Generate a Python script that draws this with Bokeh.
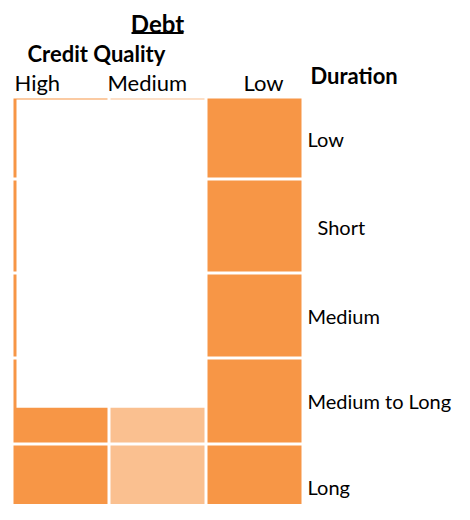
from bokeh.plotting import figure
from bokeh.models import ColumnDataSource, Range1d
from bokeh.core.properties import value
from bokeh.embed import file_html
from bokeh.resources import INLINE

# ---- data ----
title = "Debt"
x_title = "Credit Quality"
y_title = "Duration"
credit_quality = ["High", "Medium", "Low"]
duration = ["Low", "Short", "Medium", "Medium to Long", "Long"]
# shade level of each credit-quality column (1 = strong, 0.5 = partial)
column_shade = [1.0, 0.5, 1.0]
# white mask over High/Medium: covers rows Low..Medium to Long, leaving
# the lower share of "Medium to Long" visible
mask_rows = ["Low", "Short", "Medium", "Medium to Long"]
mask_last_row_visible = 0.42

# ---- layout (pixel units) ----
W, H = 454, 504
grid_left = 13
col_pitch, col_w = 97, 94
row_tops = [98, 180, 274, 359, 445]
row_hs = [79, 91, 82, 83, 80]
DARK, LIGHT = "#F79646", "#FAC090"
FONT = "Lato"
FS = "22px"
FS_ROW = "20px"

p = figure(width=W, height=H, output_backend="svg", toolbar_location=None,
           x_range=Range1d(0, W), y_range=Range1d(H, 0), min_border=0,
           background_fill_color="white", border_fill_color="white")
p.outline_line_color = None
p.axis.visible = False
p.grid.visible = False

left, right, top, bottom, color = [], [], [], [], []
for i, cq in enumerate(credit_quality):
    for j, d in enumerate(duration):
        x0 = grid_left + i * col_pitch
        left.append(x0)
        right.append(x0 + col_w)
        top.append(row_tops[j])
        bottom.append(row_tops[j] + row_hs[j])
        color.append(DARK if column_shade[i] == 1.0 else LIGHT)
p.quad(left="left", right="right", top="top", bottom="bottom", color="color",
       source=ColumnDataSource(dict(left=left, right=right, top=top, bottom=bottom, color=color)),
       line_color=None)

# mask
last = duration.index(mask_rows[-1])
m_left = grid_left + 3
m_right = grid_left + col_pitch + col_w + 1
m_top = row_tops[duration.index(mask_rows[0])] + 1
m_bottom = row_tops[last] + row_hs[last] * (1 - mask_last_row_visible)
p.quad(left=[m_left], right=[m_right], top=[m_top], bottom=[m_bottom],
       fill_color="white", line_color=None)

# title
p.text(x=[157], y=[22.5], text=[title], text_font=value(FONT), text_font_style="bold",
       text_font_size="24px", text_align="center", text_baseline="middle", text_color="black")
p.segment(x0=[131], y0=[32.5], x1=[183], y1=[32.5], line_color="black", line_width=2)

p.text(x=[27], y=[53], text=[x_title], text_font=value(FONT), text_font_style="bold",
       text_font_size=FS, text_baseline="middle", text_color="black")
p.text(x=[310], y=[74.5], text=[y_title], text_font=value(FONT), text_font_style="bold",
       text_font_size=FS, text_baseline="middle", text_color="black")

col_label_x = [14, 107, 243]
p.text(x=col_label_x, y=[81.5] * 3, text=credit_quality, text_font=value(FONT),
       text_font_size=FS, text_baseline="middle", text_color="black")

row_label_x = [307, 317, 307, 307, 307]
row_label_y = [138.5, 226.5, 315.5, 400.5, 486.5]
p.text(x=row_label_x, y=row_label_y, text=duration, text_font=value(FONT),
       text_font_size=FS_ROW, text_baseline="middle", text_color="black")

open("out.html", "w").write(file_html(p, INLINE))
